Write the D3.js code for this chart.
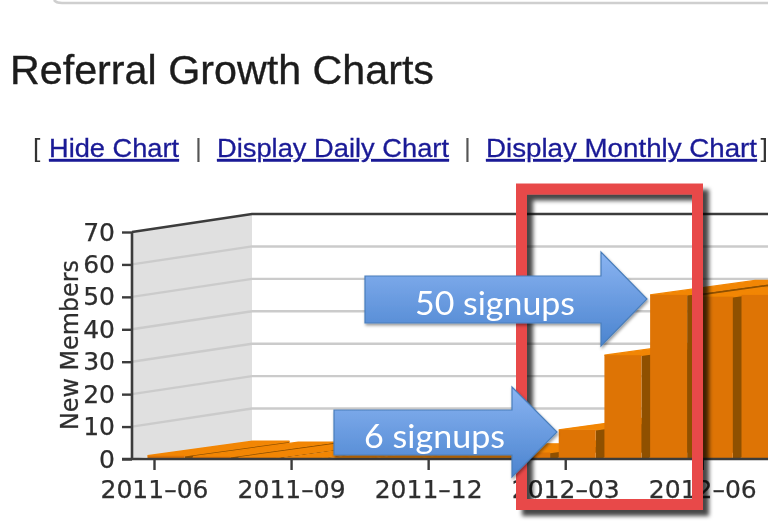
<!DOCTYPE html>
<html><head><meta charset="utf-8">
<style>html,body{margin:0;padding:0;background:#fff;overflow:hidden}svg{display:block;filter:blur(0.75px)}</style>
<script src="https://cdn.jsdelivr.net/npm/d3@7"></script></head>
<body><svg id="c" width="768" height="527"></svg>
<script>
const months=["2011-06","2011-07","2011-08","2011-09","2011-10","2011-11","2011-12","2012-01","2012-02","2012-03","2012-04","2012-05","2012-06","2012-07"];
const newMembers=[1,0.7,0.4,0.3,0.2,0.2,0.2,0.3,2,9,32,50.6,50,50.6];
const tickLabels=["2011\u201306","2011\u201309","2011\u201312","2012\u201303","2012\u201306"];
const yTicks=[0,10,20,30,40,50,60,70];
const titleText="Referral Growth Charts";
const axisTitle="New Members";
const callouts=["50 signups","6 signups"];

const svg=d3.select("#c");
const defs=svg.append("defs");
const g=defs.append("linearGradient").attr("id","arrowFill").attr("x1",0).attr("x2",0).attr("y1",0).attr("y2",1);
g.append("stop").attr("offset","0%").attr("stop-color","#8ab4f2");
g.append("stop").attr("offset","100%").attr("stop-color","#4b84cf");
const sh=defs.append("filter").attr("id","rectShadow").attr("x","-20%").attr("y","-20%").attr("width","140%").attr("height","140%");
sh.append("feDropShadow").attr("dx",6).attr("dy",6).attr("stdDeviation",2.2).attr("flood-color","#000").attr("flood-opacity",0.72);
const sh2=defs.append("filter").attr("id","arrowShadow").attr("x","-10%").attr("y","-10%").attr("width","120%").attr("height","125%");
sh2.append("feDropShadow").attr("dx",1).attr("dy",2).attr("stdDeviation",1.5).attr("flood-color","#000").attr("flood-opacity",0.4);

// page chrome
svg.append("path").attr("d","M54 0Q56 3 62 3H768").attr("fill","none").attr("stroke","#cfcfcf").attr("stroke-width",2.5);
svg.append("text").attr("x",10).attr("y",84).text(titleText)
  .attr("font-family","Liberation Sans").attr("font-size",41).attr("fill","#1c1c1c")
  .attr("stroke","#1c1c1c").attr("stroke-width",0.35)
  .attr("textLength",424).attr("lengthAdjust","spacingAndGlyphs");
const nav=svg.append("g").attr("font-family","Liberation Sans").attr("font-size",26.5);
[["[",33,"#333"],["|",195,"#555"],["|",464,"#555"],["]",760.5,"#333"]].forEach(d=>
  nav.append("text").attr("x",d[1]).attr("y",157).attr("fill",d[2]).text(d[0]));
[["Hide Chart",49,130],["Display Daily Chart",217,232],["Display Monthly Chart",486,271]].forEach(d=>{
  nav.append("text").attr("x",d[1]).attr("y",157).attr("fill","#1a1a96").attr("text-decoration","underline")
    .attr("stroke","#1a1a96").attr("stroke-width",0.3)
    .attr("textLength",d[2]).attr("lengthAdjust","spacingAndGlyphs").text(d[0]);
});

// chart
const y=d3.scaleLinear().domain([0,70]).range([459,232]);
const xTick=d3.scaleLinear().domain([0,13]).range([154,748]);
const wallDx=120,wallDy=-18,depthDx=105,depthDy=-14.5,barW=37,barOff=-6.5;
const x0=132,xR=768;
svg.append("path").attr("fill","#e0e0e0")
  .attr("d",d3.line()([[x0,y(70)],[x0+wallDx,y(70)+wallDy],[x0+wallDx,y(0)+wallDy],[x0,y(0)]])+"Z");
const grid=yTicks.filter(v=>v>0&&v<70);
svg.append("g").selectAll("path").data(grid).join("path").attr("fill","none")
  .attr("stroke","#cbcbcb").attr("stroke-width",2.4)
  .attr("d",v=>d3.line()([[x0,y(v)],[x0+wallDx,y(v)+wallDy],[xR,y(v)+wallDy]]));
svg.append("path").attr("fill","none").attr("stroke","#3c3c3c").attr("stroke-width",2.6)
  .attr("d",d3.line()([[x0,y(70)],[x0+wallDx,y(70)+wallDy],[xR,y(70)+wallDy]]));

const bars=svg.append("g").selectAll("g").data(months.map((m,i)=>({m,i,v:newMembers[i]}))).join("g");
const L=p=>d3.line()(p)+"Z";
bars.append("path").attr("fill","#8f5000").attr("d",d=>{const a=xTick(d.i)+barOff+barW;
  return L([[a,y(d.v)],[a+depthDx,y(d.v)+depthDy],[a+depthDx,y(0)+depthDy],[a,y(0)]]);});
bars.append("path").attr("fill","#f28604").attr("stroke","#f28604").attr("stroke-width",1.3).attr("d",d=>{const a=xTick(d.i)+barOff;
  return L([[a,y(d.v)],[a+barW,y(d.v)],[a+barW+depthDx,y(d.v)+depthDy],[a+depthDx,y(d.v)+depthDy]]);});
bars.append("rect").attr("fill","#de7405").attr("x",d=>xTick(d.i)+barOff).attr("width",barW)
  .attr("y",d=>y(d.v)).attr("height",d=>y(0)-y(d.v));

const axisColor="#3c3c3c";
const ya=svg.append("g").attr("transform",`translate(${x0},0)`)
  .call(d3.axisLeft(y).tickValues(yTicks).tickSize(10).tickPadding(7));
const xa=svg.append("g").attr("transform",`translate(0,${y(0)})`)
  .call(d3.axisBottom(xTick).tickValues([0,3,6,9,12]).tickFormat((d,i)=>tickLabels[i]).tickSize(11).tickPadding(10));
[ya,xa].forEach(a=>{a.select(".domain").remove();
  a.selectAll("line").attr("stroke",axisColor).attr("stroke-width",2.4);
  a.selectAll("text").attr("font-family","DejaVu Sans").attr("font-size",25).attr("fill","#2e2e2e")
    .attr("stroke","#2e2e2e").attr("stroke-width",0.25);});
svg.append("line").attr("x1",x0).attr("x2",x0).attr("y1",y(70)).attr("y2",y(0)).attr("stroke",axisColor).attr("stroke-width",2.6);
svg.append("line").attr("x1",x0-10).attr("x2",xR).attr("y1",y(0)).attr("y2",y(0)).attr("stroke",axisColor).attr("stroke-width",2.6);
svg.append("text").attr("transform","translate(78,345) rotate(-90)").attr("text-anchor","middle")
  .attr("font-family","DejaVu Sans").attr("font-size",24).attr("fill","#2e2e2e")
  .attr("stroke","#2e2e2e").attr("stroke-width",0.25)
  .attr("textLength",170).attr("lengthAdjust","spacingAndGlyphs").text(axisTitle);

// annotations
svg.append("rect").attr("x",521.5).attr("y",189).attr("width",176).attr("height",315.5)
  .attr("fill","none").attr("stroke","#e84a4a").attr("stroke-width",11).attr("filter","url(#rectShadow)");
const arrows=[[365,601,647,276,323,252,346],[334,512,557,410,455,387,477]];
svg.append("g").selectAll("path").data(arrows).join("path")
  .attr("fill","url(#arrowFill)").attr("stroke","#4a7ebb").attr("stroke-width",1.2).attr("filter","url(#arrowShadow)")
  .attr("d",([l,b,t,y1,y2,h1,h2])=>L([[l,y1],[b,y1],[b,h1],[t,(h1+h2)/2],[b,h2],[b,y2],[l,y2]]));
svg.append("g").selectAll("text").data([[415,315,160,callouts[0]],[364,448,141,callouts[1]]]).join("text")
  .attr("x",d=>d[0]).attr("y",d=>d[1]).attr("textLength",d=>d[2]).attr("lengthAdjust","spacingAndGlyphs")
  .attr("font-family","Lato").attr("font-size",33).attr("fill","#fff").text(d=>d[3]);
</script></body></html>
